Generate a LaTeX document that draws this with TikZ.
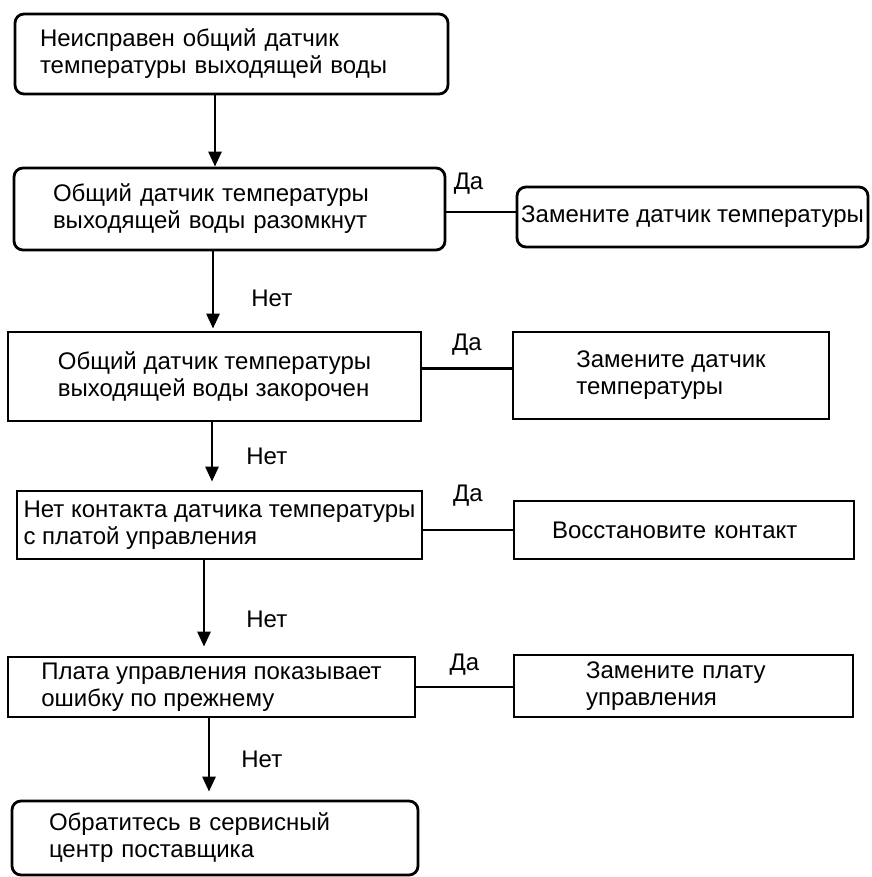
\documentclass[tikz,border=0pt]{standalone}
\usepackage{fontspec}
\setmainfont{Liberation Sans}
\usepackage{tikz}
\usetikzlibrary{arrows.meta}

\tikzset{
	box/.style={draw, line width=2.8pt, align=left, inner sep=0pt, font=\fontsize{24}{27}\selectfont},
	rbox/.style={box, rounded corners=9pt},
	arr/.style={line width=2.8pt, -{Triangle[width=13pt, length=15pt]}},
	yes/.style={line width=2.4pt},
	lbl/.style={inner sep=0pt, font=\fontsize{24}{27}\selectfont}
}

\begin{document}
\begin{tikzpicture}[x=1pt, y=-1pt]
	\useasboundingbox (0, 0) rectangle (871, 877);
	\node [rbox, minimum width=433pt, minimum height=80pt, inner xsep=25pt, text width=383pt] (b1) at (231.5, 54) {Неисправен общий датчик\\температуры выходящей воды};
	\node [rbox, minimum width=431pt, minimum height=82pt, inner xsep=39pt, text width=353pt] (b2) at (229.5, 209) {Общий датчик температуры\\выходящей воды разомкнут};
	\node [rbox, minimum width=351pt, minimum height=60pt] (r1) at (692.5, 217) {Замените датчик температуры};
	\node [box, minimum width=413pt, minimum height=89pt] (b3) at (214.5, 376.5) {Общий датчик температуры\\выходящей воды закорочен};
	\node [box, minimum width=316pt, minimum height=87pt] (r2) at (671, 375.5) {Замените датчик\\температуры};
	\node [box, minimum width=405pt, minimum height=68pt] (b4) at (219.5, 525) {Нет контакта датчика температуры\\с платой управления};
	\node [box, minimum width=340pt, minimum height=58pt, inner xsep=38pt, text width=264pt] (r3) at (684, 530) {Восстановите контакт};
	\node [box, minimum width=407pt, minimum height=60pt] (b5) at (211.5, 687) {Плата управления показывает\\ошибку по прежнему};
	\node [box, minimum width=339pt, minimum height=62pt, inner xsep=72pt, text width=195pt] (r4) at (683.5, 686) {Замените плату\\управления};
	\node [rbox, minimum width=406pt, minimum height=74pt, inner xsep=37pt, text width=332pt] (b6) at (215, 838) {Обратитесь в сервисный\\центр поставщика};

	\draw [arr] ([xshift=-16.5pt]b1.south) -- ([xshift=-16.5pt]b1.south |- b2.north);
	\draw [arr, shorten >=2pt] ([xshift=-16.5pt]b2.south) -- node [lbl, right=37pt, yshift=-7pt] {Нет} ([xshift=-16.5pt]b2.south |- b3.north);
	\draw [arr, shorten >=8pt] ([xshift=-2.5pt]b3.south) -- node [lbl, right=33pt] {Нет} ([xshift=-2.5pt]b3.south |- b4.north);
	\draw [arr, shorten >=9pt] ([xshift=-15.5pt]b4.south) -- node [lbl, right=41pt, yshift=-11pt] {Нет} ([xshift=-15.5pt]b4.south |- b5.north);
	\draw [arr, shorten >=8pt] ([xshift=-2.5pt]b5.south) -- node [lbl, right=31pt] {Нет} ([xshift=-2.5pt]b5.south |- b6.north);

	\draw [yes] ([yshift=5pt]r1.west -| b2.east) -- node [lbl, pos=0.32, above=16.6pt] {Да} ([yshift=5pt]r1.west);
	\draw [yes] ([yshift=8pt]b3.east) -- node [lbl, pos=0.5, above=11.6pt] {Да} ([yshift=8pt]b3.east -| r2.west);
	\draw [yes] (r3.west -| b4.east) -- node [lbl, pos=0.5, above=22.6pt] {Да} (r3.west);
	\draw [yes] (b5.east) -- node [lbl, pos=0.5, above=10.6pt] {Да} (b5.east -| r4.west);
\end{tikzpicture}
\end{document}
